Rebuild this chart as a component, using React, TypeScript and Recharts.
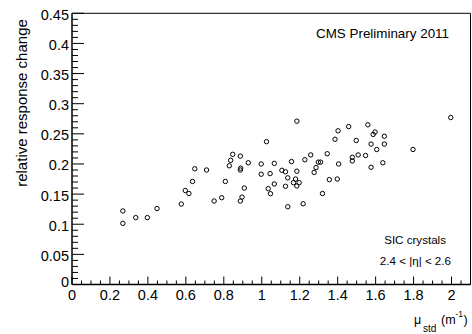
import React from 'react';
import { ScatterChart, Scatter, XAxis, YAxis, ReferenceLine } from 'recharts';

// mu_std (m^-1) and relative response change
const muStd = [
    0.268, 0.268, 0.336, 0.397, 0.448, 0.576, 0.597, 0.616, 0.635, 0.647,
    0.709, 0.749, 0.789, 0.808, 0.829, 0.836, 0.847, 0.887, 0.887, 0.889,
    0.929, 0.908, 0.896, 0.887, 0.997, 0.997, 1.044, 1.034, 1.046, 1.025,
    1.066, 1.066, 1.106, 1.125, 1.157, 1.137, 1.185, 1.125, 1.178, 1.167,
    1.197, 1.185, 1.185, 1.227, 1.258, 1.298, 1.31, 1.286, 1.276, 1.345,
    1.405, 1.356, 1.398, 1.32, 1.137, 1.218, 1.402, 1.386, 1.458, 1.559,
    1.597, 1.587, 1.646, 1.498, 1.576, 1.646, 1.606, 1.508, 1.547, 1.477,
    1.477, 1.638, 1.576, 1.996, 1.797,
];
const responseChange = [
    0.122, 0.1015, 0.111, 0.111, 0.126, 0.1335, 0.156, 0.151, 0.171, 0.192,
    0.19, 0.1385, 0.144, 0.171, 0.197, 0.206, 0.216, 0.213, 0.19, 0.193,
    0.202, 0.16, 0.145, 0.1385, 0.2, 0.183, 0.184, 0.159, 0.1507, 0.237,
    0.201, 0.1668, 0.1895, 0.187, 0.204, 0.177, 0.188, 0.163, 0.175, 0.169,
    0.169, 0.1635, 0.271, 0.207, 0.215, 0.203, 0.203, 0.194, 0.186, 0.217,
    0.2, 0.174, 0.175, 0.151, 0.129, 0.134, 0.255, 0.241, 0.262, 0.265,
    0.253, 0.249, 0.246, 0.239, 0.233, 0.233, 0.224, 0.215, 0.214, 0.211,
    0.205, 0.202, 0.1945, 0.277, 0.224,
];

const xMajorTicks = [0, 0.2, 0.4, 0.6, 0.8, 1, 1.2, 1.4, 1.6, 1.8, 2];
const yMajorTicks = [0, 0.05, 0.1, 0.15, 0.2, 0.25, 0.3, 0.35, 0.4, 0.45];

const X_MAX = 2.1;
const Y_MAX = 0.45;
const FONT = '"Liberation Sans", Arial, Helvetica, sans-serif';

const points = muStd.map((x, i) => ({ x, y: responseChange[i] }));

// minor ticks every 0.05 on x and 0.01 on y
const xTicks = Array.from({ length: 43 }, (_, i) => +(i * 0.05).toFixed(2));
const yTicks = Array.from({ length: 46 }, (_, i) => +(i * 0.01).toFixed(2));

const isMajor = (v: number, list: number[]) => list.some(m => Math.abs(m - v) < 1e-6);
const fmt = (v: number) => String(+v.toFixed(2));

function XTick(props: any) {
    const { x, y, payload } = props;
    const major = isMajor(payload.value, xMajorTicks);
    return <g>
        <line x1={x} x2={x} y1={y} y2={y - (major ? 8 : 4)} stroke="#000" strokeWidth={1} />
        {major && <text x={x} y={y + 15} textAnchor="middle" fontSize={14.5} fontFamily={FONT} fill="#000">{fmt(payload.value)}</text>}
    </g>;
}

function YTick(props: any) {
    const { x, y, payload } = props;
    const major = isMajor(payload.value, yMajorTicks);
    const dy = payload.value === 0 ? -2.5 : 1.5;
    return <g>
        <line x1={x} x2={x + (major ? 12 : 6)} y1={y} y2={y} stroke="#000" strokeWidth={1} />
        {major && <text x={x - 3} y={y + dy} textAnchor="end" dominantBaseline="central" fontSize={14.5} fontFamily={FONT} fill="#000">{fmt(payload.value)}</text>}
    </g>;
}

const Marker = (props: any) => <circle cx={props.cx} cy={props.cy} r={2.2} fill="none" stroke="#000" strokeWidth={1} />;

export default function App() {
    return <div style={{ position: 'absolute', left: 0, top: 0, width: 472, height: 334, background: '#fff' }}>
        <ScatterChart width={472} height={334} margin={{ top: 13.3, right: 1.5, left: 0, bottom: 0 }}>
            <XAxis type="number" dataKey="x" domain={[0, X_MAX]} allowDataOverflow ticks={xTicks} interval={0}
                tickSize={0} tickMargin={0} tickLine={false} tick={<XTick />} height={49.5}
                axisLine={{ stroke: '#000', strokeWidth: 1.5 }} />
            <YAxis type="number" dataKey="y" domain={[0, Y_MAX]} allowDataOverflow ticks={yTicks} interval={0}
                tickSize={0} tickMargin={0} tickLine={false} tick={<YTick />} width={72}
                axisLine={{ stroke: '#000', strokeWidth: 1.5 }} />
            <ReferenceLine y={Y_MAX} stroke="#000" strokeWidth={1} />
            <ReferenceLine x={X_MAX} stroke="#000" strokeWidth={1} />
            <Scatter data={points} shape={<Marker />} isAnimationActive={false} />
        </ScatterChart>
        <svg width={472} height={334} style={{ position: 'absolute', left: 0, top: 0, pointerEvents: 'none' }} fontFamily={FONT} fill="#000">
            <text transform="translate(27, 103) rotate(-90)" textAnchor="middle" fontSize={15}>relative response change</text>
            <text x={449} y={38} textAnchor="end" fontSize={13.4}>CMS Preliminary 2011</text>
            <text x={446} y={244} textAnchor="end" fontSize={11.6}>SIC crystals</text>
            <text x={451} y={265} textAnchor="end" fontSize={11.6}>2.4 &lt; |η| &lt; 2.6</text>
            <text x={414} y={324} fontSize={12.5}>μ</text>
            <text x={423} y={332} fontSize={10}>std</text>
            <text x={441} y={324} fontSize={12.5}>(m</text>
            <text x={455.5} y={317} fontSize={8.5}>-1</text>
            <text x={463.5} y={324} fontSize={12.5}>)</text>
        </svg>
    </div>;
}
